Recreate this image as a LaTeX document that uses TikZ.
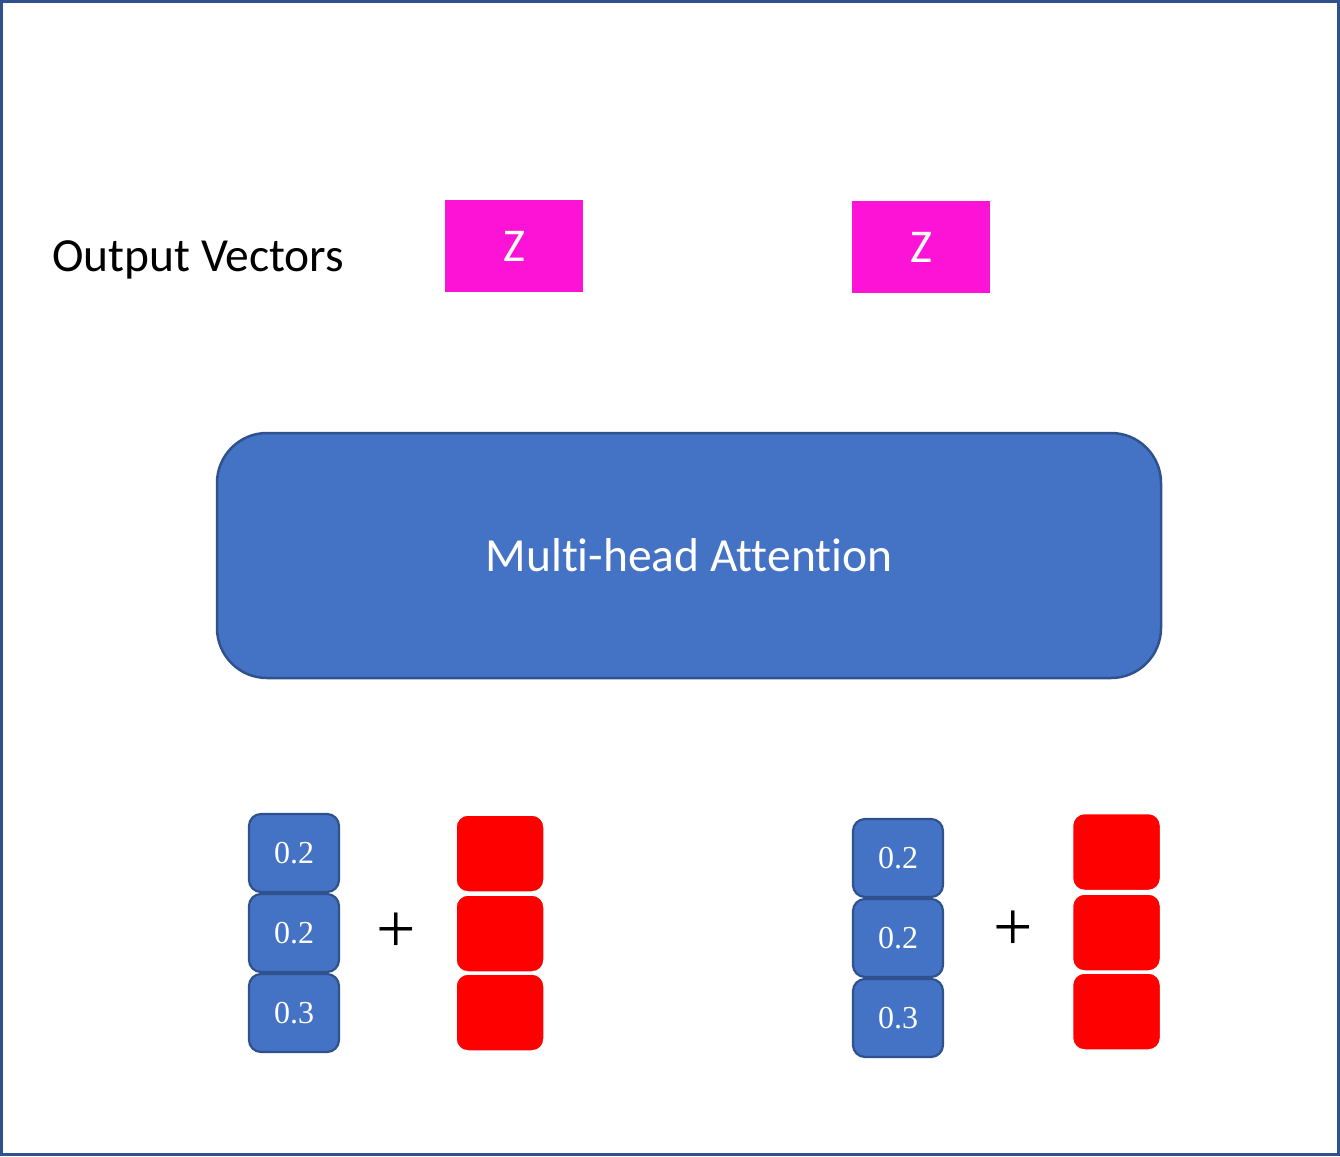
\documentclass[tikz,border=0pt]{standalone}
\usepackage{fontspec}
\setmainfont{Liberation Serif}
\newfontfamily\calibri[Ligatures=NoCommon]{Carlito}
\definecolor{accblue}{HTML}{4472C4}
\definecolor{accedge}{HTML}{2F528F}
\definecolor{zpink}{HTML}{FC13D6}
\begin{document}
\begin{tikzpicture}[x=1pt,y=-1pt,
  cell/.style={draw=accedge, line width=2.2pt, fill=accblue, rounded corners=12pt,
    minimum width=90pt, minimum height=78pt, inner sep=0pt, text=white,
    font=\fontsize{32}{37}\selectfont},
  emb/.style={fill=red, draw=white, line width=1.5pt, rounded corners=12pt,
    minimum width=88pt, minimum height=77pt, inner sep=0pt},
  zbox/.style={fill=zpink, minimum width=138pt, minimum height=92pt, inner sep=0pt,
    text=white, font=\calibri\fontsize{47}{56}\selectfont},
  attn/.style={draw=accedge, line width=2.5pt, fill=accblue, rounded corners=50pt,
    minimum width=944pt, minimum height=245pt, inner sep=0pt, text=white,
    font=\calibri\fontsize{47.5}{57}\selectfont},
  plussign/.style={inner sep=0pt, font=\fontsize{70}{80}\selectfont},
  caption/.style={inner sep=0pt, font=\calibri\fontsize{47.5}{57}\selectfont}
]
\useasboundingbox (0,0) rectangle (1340,1156);
% outer frame
\draw[accedge, line width=2.6pt] (1.3,1.3) rectangle (1338.7,1154.7);

% output row
\node[caption, anchor=base west] (outlabel) at (52,271) {Output Vectors};
\node[zbox] (z1) at (514,246) {Z};
\node[zbox] (z2) at (921,247) {Z};

% attention block
\node[attn] (mha) at (689,555.5) {Multi-head Attention};

% first token: word vector + positional encoding
\node[cell] (a1) at (294,853) {0.2};
\node[cell] (a2) at (294,933) {0.2};
\node[cell] (a3) at (294,1013) {0.3};
\node[plussign] (p1) at (396,933) {+};
\node[emb] (e1) at (500,853.5) {};
\node[emb] (e2) at (500,933.5) {};
\node[emb] (e3) at (500,1012.5) {};

% second token: word vector + positional encoding
\node[cell] (b1) at (898,858) {0.2};
\node[cell] (b2) at (898,938) {0.2};
\node[cell] (b3) at (898,1018) {0.3};
\node[plussign] (p2) at (1013,931) {+};
\node[emb] (f1) at (1116.5,852) {};
\node[emb] (f2) at (1116.5,932.5) {};
\node[emb] (f3) at (1116.5,1011.5) {};
\end{tikzpicture}
\end{document}
